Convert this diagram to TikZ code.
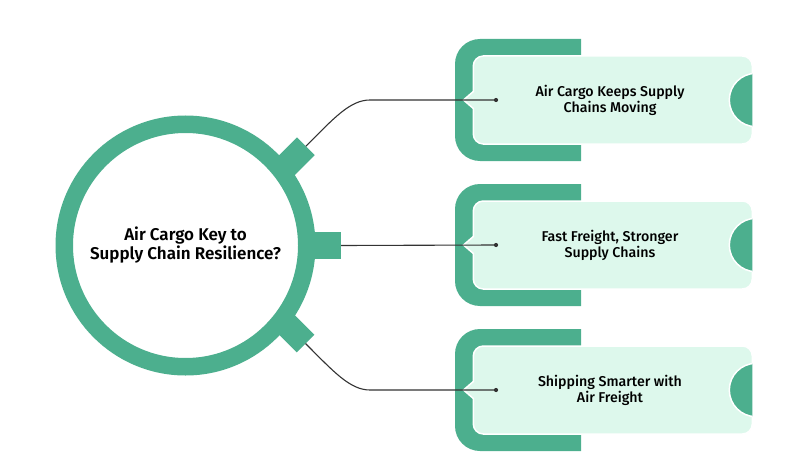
\documentclass[tikz,border=0pt]{standalone}
\usepackage{fontspec}
\setmainfont{Fira Sans}
\newfontfamily\boxfont{Fira Sans Medium}
\newfontfamily\hubfont{Fira Sans SemiBold}
\definecolor{dkg}{HTML}{4CAF8E}
\definecolor{ltg}{HTML}{DDF8EC}
\definecolor{ink}{HTML}{333333}
\newcommand{\lightpath}[1]{(483.3,#1+44) -- (742.3,#1+44) arc[start angle=90,end angle=0,radius=10] -- (752.3,#1-34) arc[start angle=0,end angle=-90,radius=10] -- (483.3,#1-44) arc[start angle=270,end angle=180,radius=10] -- (473.3,#1-8.5) -- (463.5,#1) -- (473.3,#1+8.5) -- (473.3,#1+34) arc[start angle=180,end angle=90,radius=10] -- cycle}
\begin{document}
\begin{tikzpicture}[x=1pt,y=1pt,
  boxtext/.style={text=black, align=center, font=\boxfont\fontsize{14.2}{16}\selectfont},
  hubtext/.style={text=black, align=center, font=\hubfont\fontsize{17}{19}\selectfont},
  conn/.style={draw=ink, line width=1.1pt},
  dotnode/.style={circle, fill=ink, inner sep=0pt, minimum size=4.2pt},
  lightbox/.style={fill=ltg, draw=white, line width=1.5pt},
  tabfill/.style={fill=dkg}]
\useasboundingbox (0,0) rectangle (811,475);

% hub ring
\node[circle, draw=dkg, line width=17.5pt, minimum size=242.5pt, inner sep=0pt, hubtext] (hub) at (185.5,229.5) {Air Cargo Key to\\Supply Chain Resilience?};
% tabs
\fill[tabfill, shift={(305.8,328.7)}, rotate=45] (-35,-12.5) rectangle (0,12.5);
\fill[tabfill, shift={(305.5,131.5)}, rotate=-45] (-35,-12.5) rectangle (0,12.5);
\fill[tabfill] (300,216) rectangle (341,243);
\coordinate (tabA) at (305.8,328.7);
\coordinate (tabB) at (341,229.5);
\coordinate (tabC) at (305.5,131.5);

% boxes
\foreach \c/\txt/\n in {375/{Air Cargo Keeps Supply\\Chains Moving}/1,
                        230/{Fast Freight, Stronger\\Supply Chains}/2,
                        85/{Shipping Smarter with\\Air Freight}/3}{
  \begin{scope}
    \clip (0,0) rectangle (581,475);
    \fill[dkg, rounded corners=25pt] (455,\c-61) rectangle (620,\c+61);
  \end{scope}
  \filldraw[lightbox] \lightpath{\c};
  \begin{scope}
    \clip \lightpath{\c};
    \filldraw[fill=dkg, draw=white, line width=1.5pt] (756,\c) circle (26.7);
  \end{scope}
  \node[boxtext] (b\n) at (610,\c) {\txt};
  \node[dotnode] (d\n) at (496,\c) {};
}

\coordinate (k1) at (370,375);
\coordinate (k3) at (370,85);
\draw[conn] (tabA) .. controls +(45:40) and +(-20,0) .. (k1) -- (d1.center);
\draw[conn] (tabB) -- (d2.center);
\draw[conn] (tabC) .. controls +(-45:40) and +(-20,0) .. (k3) -- (d3.center);
\end{tikzpicture}
\end{document}
